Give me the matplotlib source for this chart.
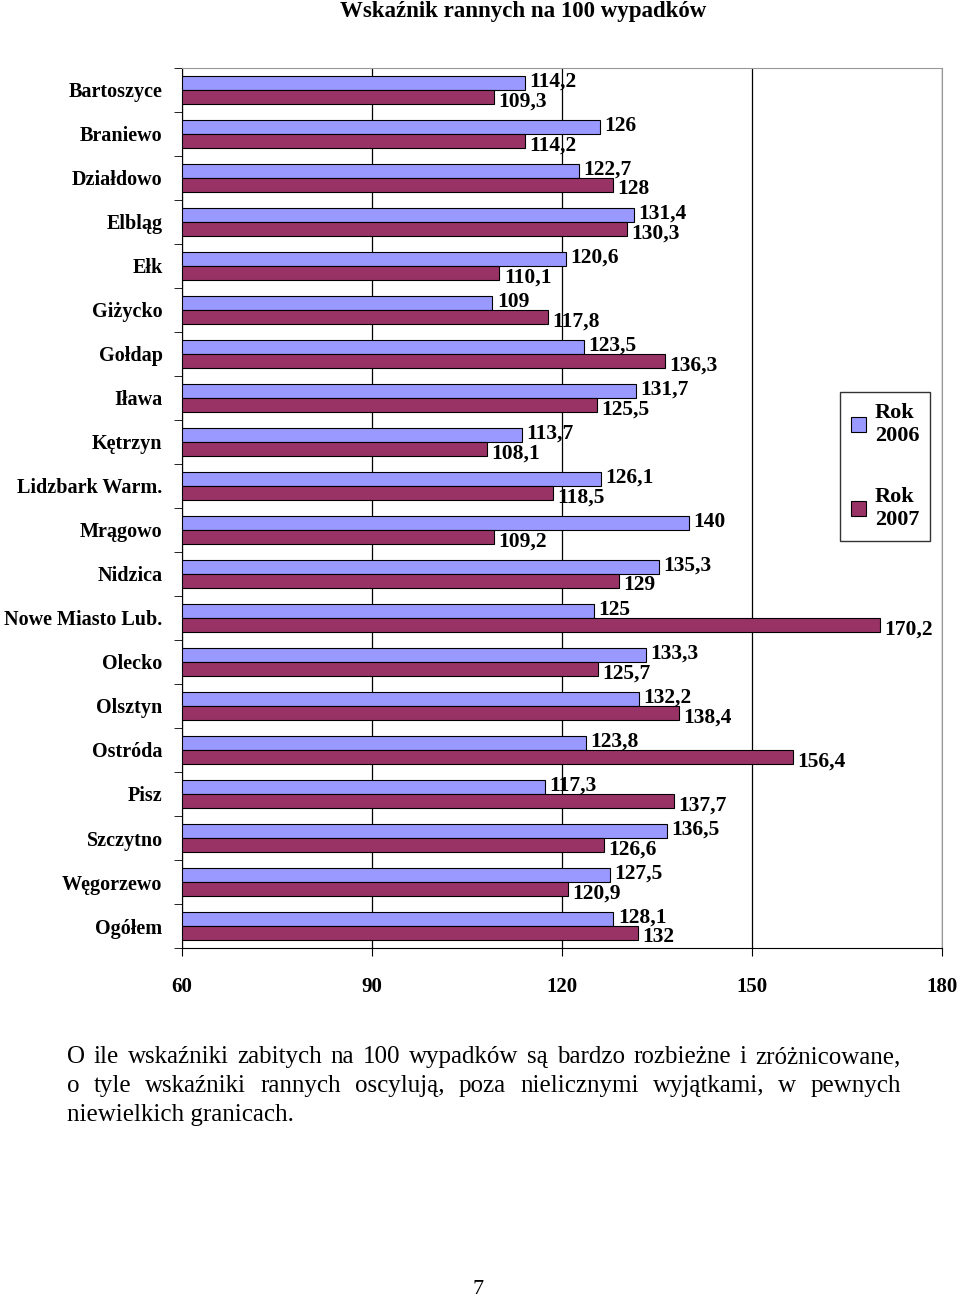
import numpy as np
import matplotlib.pyplot as plt

plt.rcParams['font.family'] = ['Liberation Serif', 'DejaVu Serif']

powiaty = ['Bartoszyce', 'Braniewo', 'Działdowo', 'Elbląg', 'Ełk', 'Giżycko',
           'Gołdap', 'Iława', 'Kętrzyn', 'Lidzbark Warm.', 'Mrągowo', 'Nidzica',
           'Nowe Miasto Lub.', 'Olecko', 'Olsztyn', 'Ostróda', 'Pisz',
           'Szczytno', 'Węgorzewo', 'Ogółem']
rok_2006 = [114.2, 126, 122.7, 131.4, 120.6, 109, 123.5, 131.7, 113.7, 126.1,
            140, 135.3, 125, 133.3, 132.2, 123.8, 117.3, 136.5, 127.5, 128.1]
rok_2007 = [109.3, 114.2, 128, 130.3, 110.1, 117.8, 136.3, 125.5, 108.1, 118.5,
            109.2, 129, 170.2, 125.7, 138.4, 156.4, 137.7, 126.6, 120.9, 132]

fig = plt.figure(figsize=(9.6, 12.99), dpi=100)
ax = fig.add_axes([0.1896, 0.2702, 0.7917, 0.6775])

y = np.arange(len(powiaty))
h = 0.32
c1, c2 = '#9999ff', '#993366'
ax.barh(y - h / 2, np.array(rok_2006) - 60, left=60, height=h, color=c1,
        edgecolor='black', linewidth=0.8, label='Rok\n2006', zorder=3)
ax.barh(y + h / 2, np.array(rok_2007) - 60, left=60, height=h, color=c2,
        edgecolor='black', linewidth=0.8, label='Rok\n2007', zorder=3)

def fmt(v):
    return ('%g' % v).replace('.', ',')

for yi, v in zip(y, rok_2006):
    ax.text(v + 0.7, yi - h / 2 - 0.02, fmt(v), va='center', ha='left',
            fontsize=15.5, fontweight='bold', zorder=4)
for yi, v in zip(y, rok_2007):
    ax.text(v + 0.7, yi + h / 2 + 0.1, fmt(v), va='center', ha='left',
            fontsize=15.5, fontweight='bold', zorder=4)

ax.set_xlim(60, 180)
ax.set_ylim(len(powiaty) - 0.5, -0.5)
ax.set_xticks([60, 90, 120, 150, 180])
ax.set_xticklabels(['60', '90', '120', '150', '180'], fontsize=15, fontweight='bold')
ax.set_yticks(np.arange(len(powiaty) + 1) - 0.5, minor=True)
ax.set_yticks(y)
ax.set_yticklabels(powiaty, fontsize=14.5, fontweight='bold')
ax.tick_params(axis='y', which='major', length=0, pad=14)
ax.tick_params(axis='y', which='minor', length=6, direction='out')
ax.tick_params(axis='x', length=6, direction='out', pad=15)
ax.xaxis.grid(True, color='black', linewidth=0.9, zorder=0)
for s in ['top', 'right']:
    ax.spines[s].set_color('#999999')

ax.legend(loc='upper left', bbox_to_anchor=(0.866, 0.632), frameon=True,
          fancybox=False, edgecolor='black', handlelength=0.65,
          handleheight=0.65, labelspacing=1.85, borderpad=0.5, borderaxespad=0,
          handletextpad=0.4, prop={'weight': 'bold', 'size': 16})

fig.text(0.545, 0.9915, 'Wskaźnik rannych na 100 wypadków', ha='center', va='center',
         fontsize=16.5, fontweight='bold')

lines = ['O ile wskaźniki zabitych na 100 wypadków są  bardzo  rozbieżne i zróżnicowane,',
         'o tyle wskaźniki rannych oscylują, poza nielicznymi wyjątkami, w pewnych',
         'niewielkich granicach.']
x0, x1 = 67, 901
fig.canvas.draw()
r = fig.canvas.get_renderer()
for i, t in enumerate(lines):
    yy = 1 - (1057 + 29 * i) / 1299
    if i == len(lines) - 1:
        fig.text(x0 / 960, yy, t, ha='left', va='center', fontsize=18)
        continue
    words = t.split()
    objs = [fig.text(0, yy, w, ha='left', va='center', fontsize=18) for w in words]
    widths = [o.get_window_extent(renderer=r).width for o in objs]
    gap = (x1 - x0 - sum(widths)) / (len(words) - 1)
    xp = x0
    for o, w in zip(objs, widths):
        o.set_x(xp / 960)
        xp += w + gap
fig.text(0.498, 1 - 1289 / 1299, '7', ha='center', va='center', fontsize=16)

fig.savefig('out.png', dpi=100)
